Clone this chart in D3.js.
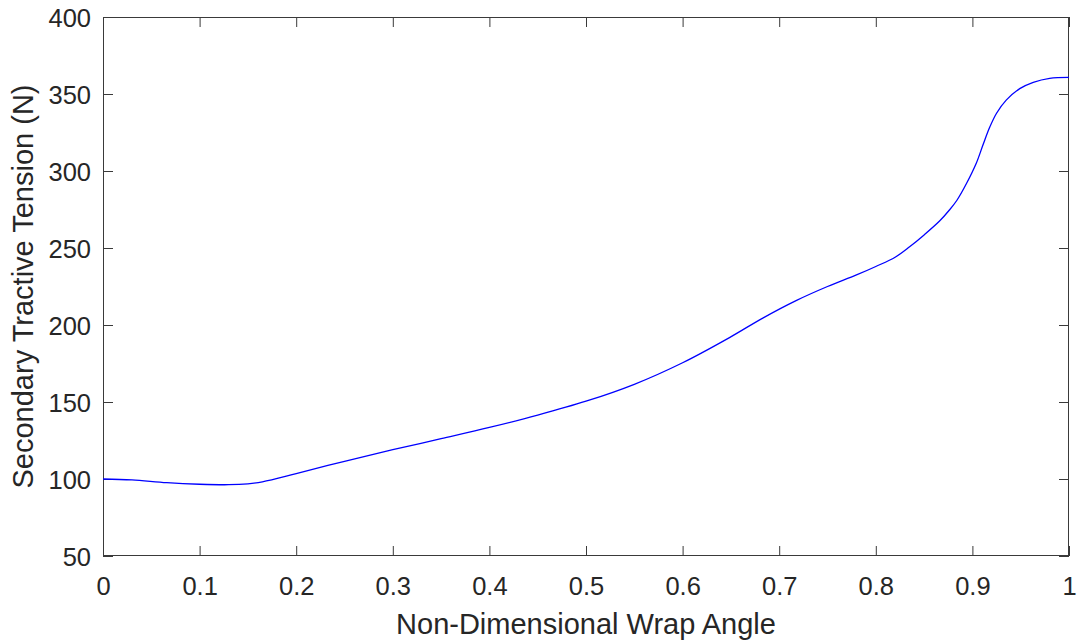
<!DOCTYPE html>
<html>
<head>
<meta charset="utf-8">
<script src="https://cdn.jsdelivr.net/npm/d3@7"></script>
<style>
  html, body { margin: 0; padding: 0; background: #fff; }
  svg { display: block; font-family: "Liberation Sans", Arial, sans-serif; }
</style>
</head>
<body>
<svg id="chart" width="1078" height="643"></svg>
<script>
// Secondary tractive tension along the wrap angle
const wrapAngle = [0, 0.03, 0.066, 0.1, 0.13, 0.15, 0.165, 0.2, 0.25, 0.3, 0.35, 0.4, 0.45,
  0.5, 0.55, 0.6, 0.649, 0.683, 0.718, 0.75, 0.78, 0.8, 0.82, 0.835, 0.85, 0.866, 0.876, 0.884,
  0.894, 0.904, 0.911, 0.918, 0.925, 0.935, 0.949, 0.963, 0.98, 1.0];
const tension = [100, 99.4, 97.6, 96.6, 96.3, 96.9, 98.2, 103.5, 111.5, 119, 126.2, 133.5, 141.5,
  150.5, 161.5, 175.5, 192, 204.5, 216, 225, 232.5, 238, 244, 250.8, 258.5, 267.5, 274.5, 281,
  292, 305, 317, 328.5, 337.5, 346, 353.5, 357.6, 360.2, 360.8];
const xTicks = [0, 0.1, 0.2, 0.3, 0.4, 0.5, 0.6, 0.7, 0.8, 0.9, 1];
const yTicks = [50, 100, 150, 200, 250, 300, 350, 400];
const xLabel = "Non-Dimensional Wrap Angle";
const yLabel = "Secondary Tractive Tension (N)";

const svg = d3.select("#chart");
const plotL = 103, plotR = 1069, plotT = 17, plotB = 556;
const axisColor = "#3a3a3a", textColor = "#262626";

const x = d3.scaleLinear().domain([0, 1]).range([plotL, plotR]);
const y = d3.scaleLinear().domain([50, 400]).range([plotB, plotT]);

// Bottom axis with labels
const gx = svg.append("g").attr("transform", `translate(0,${plotB})`)
  .call(d3.axisBottom(x).tickValues(xTicks).tickSizeInner(-10).tickSizeOuter(0)
    .tickPadding(0).tickFormat(d => d3.format("")(d)));
gx.select(".domain").remove();
gx.selectAll("line").attr("stroke", axisColor);
gx.selectAll("text").attr("fill", textColor).attr("font-size", 25.5)
  .attr("dy", null).attr("y", 39);

// Top mirrored ticks
const gt = svg.append("g").attr("transform", `translate(0,${plotT})`)
  .call(d3.axisTop(x).tickValues(xTicks).tickSizeInner(-10).tickSizeOuter(0).tickFormat(""));
gt.select(".domain").remove();
gt.selectAll("line").attr("stroke", axisColor);

// Left axis with labels
const gy = svg.append("g").attr("transform", `translate(${plotL},0)`)
  .call(d3.axisLeft(y).tickValues(yTicks).tickSizeInner(-10).tickSizeOuter(0).tickPadding(0));
gy.select(".domain").remove();
gy.selectAll("line").attr("stroke", axisColor);
gy.selectAll("text").attr("fill", textColor).attr("font-size", 25.5)
  .attr("x", -12).attr("dy", "0.37em");

// Right mirrored ticks
const gr = svg.append("g").attr("transform", `translate(${plotR},0)`)
  .call(d3.axisRight(y).tickValues(yTicks).tickSizeInner(-10).tickSizeOuter(0).tickFormat(""));
gr.select(".domain").remove();
gr.selectAll("line").attr("stroke", axisColor);

// Box frame
svg.append("rect")
  .attr("x", plotL + 0.5).attr("y", plotT + 0.5)
  .attr("width", plotR - plotL - 1).attr("height", plotB - plotT - 1)
  .attr("fill", "none").attr("stroke", axisColor).attr("stroke-width", 1);

// Tension curve
const pts = wrapAngle.map((a, i) => [a, tension[i]]);
svg.append("path")
  .datum(pts)
  .attr("fill", "none")
  .attr("stroke", "#0000ff")
  .attr("stroke-width", 1.3)
  .attr("d", d3.line().x(d => x(d[0])).y(d => y(d[1])).curve(d3.curveCatmullRom.alpha(0.5)));

// Axis titles
svg.append("text")
  .attr("x", (plotL + plotR) / 2).attr("y", 634)
  .attr("text-anchor", "middle").attr("font-size", 29).attr("fill", textColor)
  .text(xLabel);

svg.append("text")
  .attr("transform", `translate(33,${(plotT + plotB) / 2}) rotate(-90)`)
  .attr("text-anchor", "middle").attr("font-size", 29).attr("fill", textColor)
  .text(yLabel);
</script>
</body>
</html>
